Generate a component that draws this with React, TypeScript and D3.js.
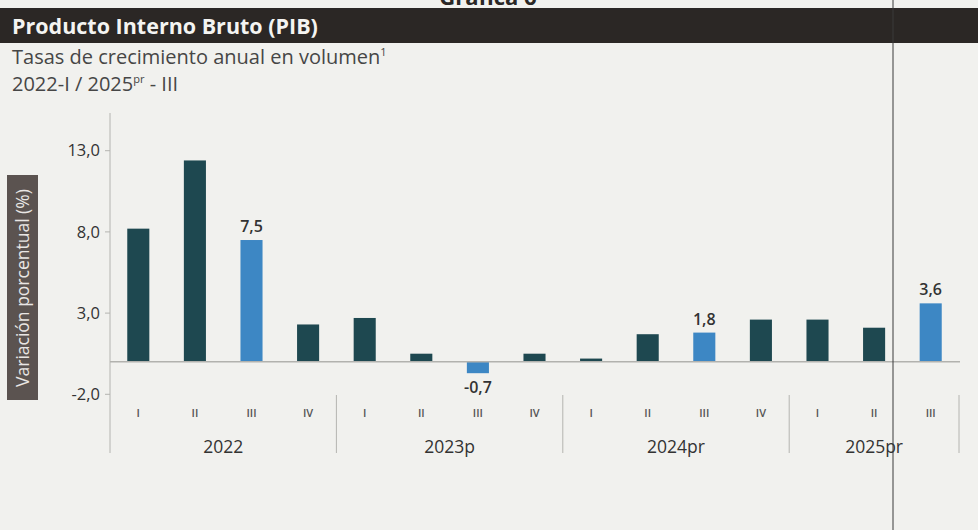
import React from "react";
import * as d3 from "d3";

// quarterly GDP growth, annual volume rates (%)
const quarters = ["I", "II", "III", "IV", "I", "II", "III", "IV", "I", "II", "III", "IV", "I", "II", "III"];
const years = ["2022", "2023p", "2024pr", "2025pr"];
const quartersPerYear = [4, 4, 4, 3];
const growth = [8.2, 12.4, 7.5, 2.3, 2.7, 0.5, -0.7, 0.5, 0.2, 1.7, 1.8, 2.6, 2.6, 2.1, 3.6];
const labelled = [2, 6, 10, 14];
const yTicks = [-2, 3, 8, 13];

const W = 978;
const H = 530;
const axisX = 110;
const plotRight = 959;

const fmt = (v: number) => d3.format(".1f")(v).replace(".", ",").replace("−", "-");

const App = () => {
  const ids = growth.map((_, i) => String(i));
  const x = d3
    .scaleBand()
    .domain(ids)
    .range([axisX, plotRight])
    .paddingInner(0.61)
    .paddingOuter(0.305);
  const y = d3.scaleLinear().domain([-2, 13]).range([394.3, 150.7]);
  const step = x.step();

  // group boundaries
  let acc = 0;
  const groups = years.map((yr, i) => {
    const start = axisX + acc * step;
    acc += quartersPerYear[i];
    return { yr, start, end: axisX + acc * step };
  });

  const font = "'Open Sans', 'Noto Sans', sans-serif";

  return (
    <svg width={W} height={H} style={{ display: "block", background: "#f1f1ee" }} fontFamily={font}>
      <style>{`body{margin:0}`}</style>
      <rect width={W} height={H} fill="#f1f1ee" />

      {/* header */}
      <text x={488} y={5} textAnchor="middle" fontSize={22} fontWeight={700} fill="#2a2725">
        Gráfica 6
      </text>
      <rect x={0} y={8} width={W} height={35} fill="#2b2725" />
      <text x={12} y={34} fontSize={21.5} fontWeight={700} fill="#f4f4f2">
        Producto Interno Bruto (PIB)
      </text>
      <text x={12} y={64} fontSize={20} fill="#464646">
        Tasas de crecimiento anual en volumen
        <tspan fontSize={11} dy={-8}>1</tspan>
      </text>
      <text x={12} y={91} fontSize={20} fill="#464646">
        2022-I / 2025
        <tspan fontSize={11} dy={-8}>pr</tspan>
        <tspan dy={8}> - III</tspan>
      </text>

      {/* y axis title */}
      <rect x={7} y={175} width={31} height={225} fill="#5b5350" />
      <text
        transform={`translate(29,${288}) rotate(-90)`}
        textAnchor="middle"
        fontSize={17.5}
        fill="#e9e6e4"
      >
        Variación porcentual (%)
      </text>

      {/* y axis */}
      <line x1={axisX} x2={axisX} y1={113} y2={453} stroke="#b4b4b0" strokeWidth={1} />
      {yTicks.map((t) => (
        <g key={t}>
          <line x1={axisX - 5} x2={axisX} y1={y(t)} y2={y(t)} stroke="#b4b4b0" />
          <text x={axisX - 10} y={y(t)} dy="0.35em" textAnchor="end" fontSize={16.5} fontWeight={500} fill="#333">
            {fmt(t)}
          </text>
        </g>
      ))}

      {/* bars */}
      {growth.map((v, i) => (
        <rect
          key={i}
          x={x(String(i))}
          y={Math.min(y(v), y(0))}
          width={x.bandwidth()}
          height={Math.abs(y(v) - y(0))}
          fill={labelled.includes(i) ? "#3d87c4" : "#1e4850"}
        />
      ))}
      <line x1={axisX} x2={plotRight + 1} y1={y(0)} y2={y(0)} stroke="#b2b2ae" strokeWidth={1.5} />

      {labelled.map((i) => (
        <text
          key={i}
          x={(x(String(i)) as number) + x.bandwidth() / 2}
          y={growth[i] >= 0 ? y(growth[i]) - 8 : y(growth[i]) + 20}
          textAnchor="middle"
          fontSize={16}
          fontWeight={600}
          fill="#333"
        >
          {fmt(growth[i])}
        </text>
      ))}

      {/* category axis */}
      {quarters.map((q, i) => (
        <text
          key={i}
          x={(x(String(i)) as number) + x.bandwidth() / 2}
          y={417}
          textAnchor="middle"
          fontSize={11}
          fontWeight={600}
          fill="#555"
        >
          {q}
        </text>
      ))}
      {groups.map((g) => (
        <g key={g.yr}>
          <line x1={g.end} x2={g.end} y1={395} y2={453} stroke="#b4b4b0" />
          <text x={(g.start + g.end) / 2} y={453} textAnchor="middle" fontSize={17.5} fontWeight={500} fill="#333">
            {g.yr}
          </text>
        </g>
      ))}

      {/* page fold */}
      <line x1={893} x2={893} y1={0} y2={H} stroke="#3a3a3a" strokeWidth={1} />
    </svg>
  );
};

export default App;
